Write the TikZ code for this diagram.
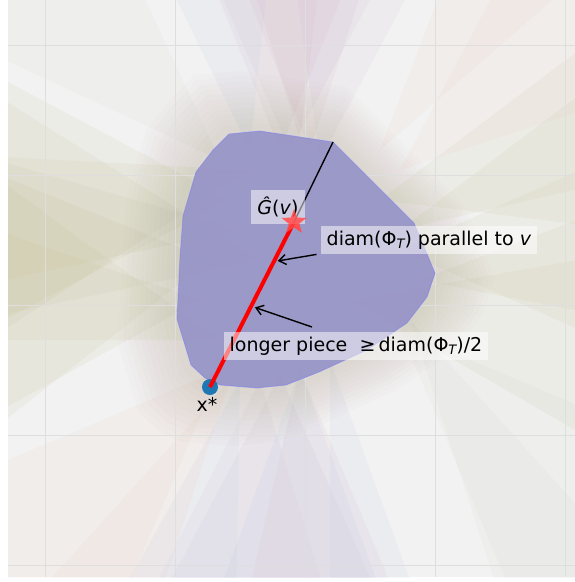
\documentclass[tikz,border=0pt]{standalone}
\usepackage{fontspec}
\setmainfont{DejaVu Sans}
\usetikzlibrary{shapes.geometric,arrows.meta,calc}

\definecolor{khaki}{RGB}{185,180,125}
\definecolor{pinkbeam}{RGB}{205,160,180}
\definecolor{mauve}{RGB}{190,165,200}
\definecolor{bluebeam}{RGB}{165,180,225}
\definecolor{peach}{RGB}{240,190,165}
\definecolor{greybeam}{RGB}{200,200,195}
\definecolor{haze}{RGB}{140,125,100}
\definecolor{bodyfill}{RGB}{150,148,199}
\definecolor{tabblue}{HTML}{1F77B4}

\newcommand{\phiT}{Φ\raisebox{-3pt}{\fontsize{13}{13}\selectfont\itshape T}}
\newcommand{\bodypath}{(229,134) -- (260,131) -- (333,142) -- (414,223) -- (435,273) -- (427,297)
  -- (407,323) -- (367,350) -- (319,372) -- (286,385) -- (257,388) -- (220,385)
  -- (205,378) -- (191,365) -- (177,319) -- (180,257) -- (183,216) -- (196,172)
  -- (213,150) -- cycle}

\begin{document}
\begin{tikzpicture}[x=1pt, y=-1pt,
    beam/.style={fill=#1, fill opacity=0.09, draw=none},
    gridline/.style={draw=black!13, line width=1pt},
    lbl/.style={fill=white, fill opacity=0.5, text opacity=1, inner xsep=6pt,
                inner ysep=5pt, font=\fontsize{19}{22}\selectfont},
    ptr/.style={-{Straight Barb[length=7pt,width=10pt]}, line width=1.4pt, shorten >=4pt},
    starmark/.style={star, star points=5, star point ratio=2.4, fill=red!70, fill opacity=0.8,
                     inner sep=0pt, minimum size=26pt}
]

\useasboundingbox (0,0) rectangle (575,582);

\begin{scope}
\clip (8,0) rectangle (575,577);
\fill[black!5] (8,0) rectangle (575,577);
\foreach \px/\py/\a/\w/\col in {
    230/200/180/28/khaki, 200/300/175/24/khaki, 260/260/190/22/khaki,
    250/170/165/18/khaki, 220/340/198/18/khaki, 240/230/182/14/khaki, 210/260/172/30/khaki,
    400/250/0/24/khaki, 380/200/-15/22/khaki, 350/300/10/20/khaki, 420/280/-5/16/khaki, 400/230/-25/12/khaki,
    280/150/-90/22/pinkbeam, 320/160/-80/18/mauve, 250/150/-100/16/bluebeam, 300/140/-95/12/pinkbeam,
    290/150/-88/26/mauve, 310/150/-92/20/pinkbeam,
    260/380/95/22/mauve, 300/370/85/18/pinkbeam, 240/380/105/14/bluebeam, 330/360/80/10/bluebeam,
    280/375/92/26/mauve, 300/370/90/20/bluebeam,
    220/370/135/22/peach, 400/170/-40/22/peach, 380/150/-55/14/peach, 230/380/120/12/peach,
    220/160/-135/20/greybeam, 400/330/45/22/greybeam, 410/320/60/12/greybeam}
  \fill[beam=\col] (\px,\py) -- ++(\a-\w:900) -- ($(\px,\py)+(\a+\w:900)$) -- cycle;
\foreach \s in {1.06,1.1,...,1.5}
  \fill[haze, fill opacity=0.02, shift={(305,262)}, scale=\s, shift={(-305,-262)}] \bodypath;
\foreach \g in {45,175,305,435,565} {
  \draw[gridline] (\g,0) -- (\g,577);
  \draw[gridline] (8,\g) -- (575,\g);
}
\end{scope}

\filldraw[fill=bodyfill, fill opacity=0.92, draw=blue!55, draw opacity=0.45, line width=0.8pt]
  \bodypath;

\coordinate (top) at (333,142);
\node[circle, fill=tabblue, inner sep=0pt, minimum size=16pt] (xstar) at (210,387) {};
\node[starmark] (ghat) at (294,222) {};

\draw[red, line width=4pt] (xstar.center) -- (ghat.center);
\draw[black, line width=1.4pt] (ghat.center) -- (top);

\node[lbl, inner ysep=7pt] (ghatlbl) at (278,207) {\textit{Ĝ}(\textit{v})};
\node[starmark] at (ghat) {};
\node[lbl] (parlbl) at (429,240) {diam(\phiT) parallel to \textit{v}};
\node[lbl] (halflbl) at (356,346) {longer piece\ \ ≥\,diam(\phiT)/2};
\node[font=\fontsize{19}{22}\selectfont, inner sep=0pt] (xlbl) at (207,404) {x*};

\coordinate (tip1) at ($(xstar.center)!0.76!(ghat.center)$);
\coordinate (tip2) at ($(xstar.center)!0.49!(ghat.center)$);
\coordinate (tail2) at (312,327);
\draw[ptr] ($(parlbl.south west)+(-4,0)$) -- (tip1);
\draw[ptr] (tail2) -- (tip2);

\end{tikzpicture}
\end{document}
